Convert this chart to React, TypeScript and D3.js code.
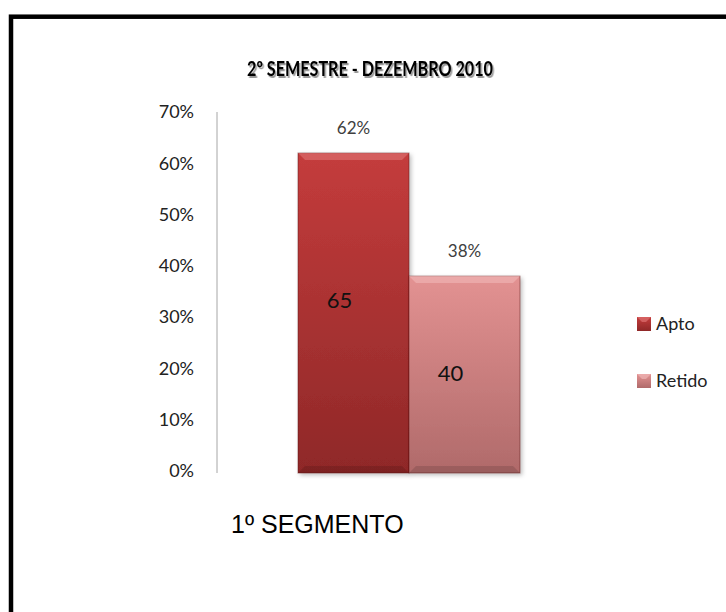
import React from "react";
import * as d3 from "d3";

// chart values
const series = ["Apto", "Retido"];
const percents = [0.62, 0.38];
const counts = [65, 40];
const yTicks = [0, 0.1, 0.2, 0.3, 0.4, 0.5, 0.6, 0.7];
const category = "1º SEGMENTO";
const title = "2º SEMESTRE - DEZEMBRO 2010";

const colors = [
  { top: "#c43c3c", bottom: "#8f2828", edge: "#e27a7a" },
  { top: "#e39292", bottom: "#b06a6a", edge: "#f2bcbc" }
];

const WIDTH = 726;
const HEIGHT = 612;
const margin = { top: 112, left: 217, bottom: 141 };
const plotBottom = HEIGHT - margin.bottom;

const font = "Lato, 'Open Sans', sans-serif";

const App = () => {
  const yScale = d3.scaleLinear().domain([0, 0.7]).range([plotBottom, margin.top]);
  const xScale = d3
    .scaleBand<string>()
    .domain(series)
    .range([298, 520])
    .paddingInner(0);
  const pct = d3.format(".0%");

  return (
    <svg
      width={WIDTH}
      height={HEIGHT}
      style={{ position: "fixed", left: 0, top: 0, background: "#fff" }}
    >
      <defs>
        {colors.map((c, i) => (
          <linearGradient key={i} id={"bar" + i} x1="0" y1="0" x2="0" y2="1">
            <stop offset="0%" stopColor={c.top} />
            <stop offset="100%" stopColor={c.bottom} />
          </linearGradient>
        ))}
        <filter id="shadow" x="-10%" y="-10%" width="130%" height="130%">
          <feDropShadow dx="2" dy="2" stdDeviation="2" floodColor="#000" floodOpacity="0.25" />
        </filter>
        <filter id="titleShadow" x="-5%" y="-30%" width="110%" height="160%">
          <feDropShadow dx="1.5" dy="2" stdDeviation="0.6" floodColor="#000" floodOpacity="0.4" />
        </filter>
      </defs>

      {/* outer frame */}
      <rect x={11} y={16.7} width={800} height={700} fill="none" stroke="#000" strokeWidth={4.5} />

      {/* title with shadow */}
      <text x={370} y={76} textAnchor="middle" fontFamily={font} fontWeight="bold"
        fontSize={21} fill="#000" textLength={246} lengthAdjust="spacingAndGlyphs"
        filter="url(#titleShadow)">
        {title}
      </text>

      {/* y axis */}
      <line x1={margin.left} x2={margin.left} y1={margin.top} y2={plotBottom + 2} stroke="#a6a6a6" />
      {yTicks.map(t => (
        <text key={t} x={194} y={yScale(t)} dy="0.35em" textAnchor="end" fontFamily={font}
          fontSize={18} fill="#222">
          {pct(t)}
        </text>
      ))}

      {/* bars */}
      {series.map((s, i) => {
        const x = xScale(s)!;
        const w = xScale.bandwidth();
        const y = yScale(percents[i]);
        const h = plotBottom - y;
        const c = colors[i];
        return (
          <g key={s}>
            <rect x={x} y={y} width={w} height={h + 2} fill={"url(#bar" + i + ")"}
              stroke="rgba(80,20,20,0.45)" strokeWidth={1} filter="url(#shadow)" />
            <polygon
              points={`${x},${y} ${x + w},${y} ${x + w - 7},${y + 7} ${x + 7},${y + 7}`}
              fill={c.edge} opacity={0.55} />
            <polygon
              points={`${x},${plotBottom + 2} ${x + w},${plotBottom + 2} ${x + w - 7},${plotBottom - 5} ${x + 7},${plotBottom - 5}`}
              fill="#000" opacity={0.12} />
            <text x={x + w / 2} y={y - 25} dy="0.35em" textAnchor="middle" fontFamily={font}
              fontSize={17} fill="#404040">
              {pct(percents[i])}
            </text>
            <text x={x + w / 2 - 14} y={(y + plotBottom) / 2 - (i === 0 ? 12 : 0)} dy="0.35em"
              textAnchor="middle" fontFamily={font} fontSize={22} fill="#111">
              {counts[i]}
            </text>
          </g>
        );
      })}

      {/* legend */}
      {series.map((s, i) => {
        const ly = 324 + i * 57;
        return (
          <g key={s}>
            <rect x={637} y={ly - 7} width={14} height={14} fill={"url(#bar" + i + ")"} />
            <polygon points={`637,${ly - 7} 651,${ly - 7} 646,${ly - 2} 642,${ly - 2}`}
              fill={colors[i].edge} opacity={0.6} />
            <text x={656} y={ly} dy="0.35em" fontFamily={font} fontSize={18} fill="#222">
              {s}
            </text>
          </g>
        );
      })}

      {/* category label */}
      <text x={231} y={533} fontFamily="'Liberation Sans', Arial, sans-serif" fontSize={25} fill="#000">
        {category}
      </text>
    </svg>
  );
};

export default App;
